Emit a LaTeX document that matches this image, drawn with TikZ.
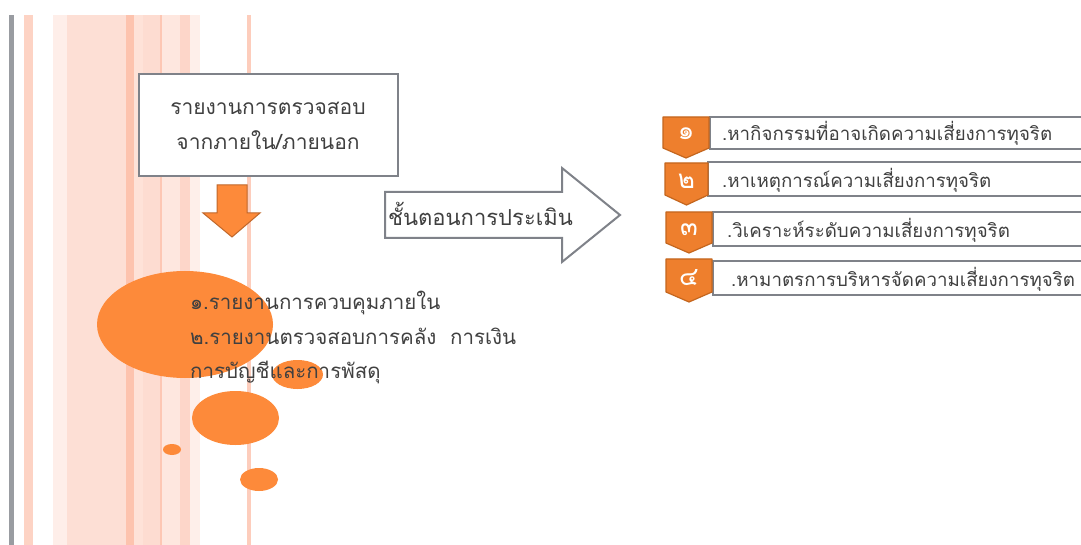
\documentclass[tikz,border=0pt]{standalone}
\usepackage{fontspec}
\newfontfamily\thaifont[Script=Thai]{Loma}
\definecolor{txt}{HTML}{404040}
\definecolor{edge}{HTML}{7F8289}
\definecolor{orng}{HTML}{FD8A3A}
\definecolor{badge}{HTML}{EE7F2D}
\definecolor{badgeedge}{HTML}{C4661E}
\definecolor{arrowedge}{HTML}{C0672A}
\tikzset{
  stripe/.style={draw=none},
  blob/.style={fill=orng, draw=none},
  graybox/.style={draw=edge, line width=2pt, fill=white},
  boxtext/.style={font=\thaifont\fontsize{21}{35}\selectfont, text=txt, align=center, inner sep=0pt},
  arrowtext/.style={font=\thaifont\fontsize{22}{35}\selectfont, text=txt, inner sep=0pt},
  listtext/.style={font=\thaifont\fontsize{20.5}{34.5}\selectfont, text=txt, align=left, anchor=north west, inner sep=0pt},
  steptext/.style={font=\thaifont\fontsize{18.7}{20}\selectfont, text=txt, anchor=west, inner sep=0pt},
  badgenum/.style={font=\thaifont\fontsize{26}{26}\selectfont, text=white, inner sep=0pt},
  badgeshape/.style={fill=badge, draw=badgeedge, line width=1.2pt, line join=round},
}
\begin{document}
\begin{tikzpicture}[x=1pt,y=-1pt]
\useasboundingbox (0,0) rectangle (1081,545);
\fill[white] (0,0) rectangle (1081,545);
% background stripes
\fill[stripe, fill={rgb,255:red,153;green,156;blue,161}] (9,15) rectangle (14,545);
\fill[stripe, fill={rgb,255:red,253;green,211;blue,196}] (24,15) rectangle (33,545);
\fill[stripe, fill={rgb,255:red,254;green,238;blue,233}] (53,15) rectangle (67,545);
\fill[stripe, fill={rgb,255:red,253;green,223;blue,213}] (67,15) rectangle (126,545);
\fill[stripe, fill={rgb,255:red,253;green,195;blue,174}] (126,15) rectangle (134,545);
\fill[stripe, fill={rgb,255:red,254;green,226;blue,216}] (134,15) rectangle (143,545);
\fill[stripe, fill={rgb,255:red,253;green,220;blue,209}] (143,15) rectangle (160,545);
\fill[stripe, fill={rgb,255:red,253;green,199;blue,180}] (160,15) rectangle (162,545);
\fill[stripe, fill={rgb,255:red,254;green,231;blue,223}] (162,15) rectangle (180,545);
\fill[stripe, fill={rgb,255:red,253;green,214;blue,201}] (180,15) rectangle (190,545);
\fill[stripe, fill={rgb,255:red,254;green,239;blue,234}] (190,15) rectangle (200,545);
\fill[stripe, fill={rgb,255:red,253;green,205;blue,188}] (247,15) rectangle (251,545);
% circles
\fill[blob] (185,324.5) ellipse [x radius=88, y radius=53.5];
\fill[blob] (297.5,374.5) ellipse [x radius=25.5, y radius=14.5];
\fill[blob] (235.5,418) ellipse [x radius=43.5, y radius=27];
\fill[blob] (172,449.5) ellipse [x radius=9, y radius=5.5];
\fill[blob] (259,479.5) ellipse [x radius=19, y radius=11.5];
% top box
\node[graybox, minimum width=259pt, minimum height=102pt, anchor=north west] (src) at (138,73) {};
\node[boxtext] (srctext) at (268,126) {รายงานการตรวจสอบ\\จากภายใน/ภายนอก};
% down arrow
\filldraw[fill=orng, draw=arrowedge, line width=1pt, line join=miter]
  (217,185) -- (247,185) -- (247,213) -- (260,213) -- (232,237) -- (203,213) -- (217,213) -- cycle;
% right arrow
\filldraw[fill=white, draw=edge, line width=2pt, line join=miter]
  (385,192) -- (562,192) -- (562,168) -- (620,215) -- (562,262) -- (562,238) -- (385,238) -- cycle;
\node[arrowtext, anchor=west] (assess) at (388,214) {ชั้นตอนการประเมิน};
% list text
\node[listtext] (reports) at (190,291) {๑.รายงานการควบคุมภายใน\\๒.รายงานตรวจสอบการคลัง\ \ การเงิน\\การบัญชีและการพัสดุ};
% steps
\begin{scope}
\clip (0,0) rectangle (1081,545);
\draw[graybox] (710,117) rectangle (1095,149);
\draw[graybox] (708,162) rectangle (1095,196);
\draw[graybox] (713,212) rectangle (1095,246);
\draw[graybox] (713,261) rectangle (1095,295);
\end{scope}
\node[steptext] (s1) at (722,133) {.หากิจกรรมที่อาจเกิดความเสี่ยงการทุจริต};
\node[steptext] (s2) at (722,180) {.หาเหตุการณ์ความเสี่ยงการทุจริต};
\node[steptext] (s3) at (727,230) {.วิเคราะห์ระดับความเสี่ยงการทุจริต};
\node[steptext] (s4) at (731,279) {.หามาตรการบริหารจัดความเสี่ยงการทุจริต};
\filldraw[badgeshape] (663,117) -- (709,117) -- (709,148) -- (686,158) -- (663,148) -- cycle;
\filldraw[badgeshape] (665,163) -- (708,163) -- (708,195) -- (686.5,205) -- (665,195) -- cycle;
\filldraw[badgeshape] (666,212) -- (712,212) -- (712,243) -- (689,253) -- (666,243) -- cycle;
\filldraw[badgeshape] (666,259) -- (712,259) -- (712,292) -- (689,302) -- (666,292) -- cycle;
\node[badgenum] (b1) at (686,134) {๑};
\node[badgenum] (b2) at (686.5,181) {๒};
\node[badgenum] (b3) at (689,230) {๓};
\node[badgenum] (b4) at (689,278) {๔};
\end{tikzpicture}
\end{document}
